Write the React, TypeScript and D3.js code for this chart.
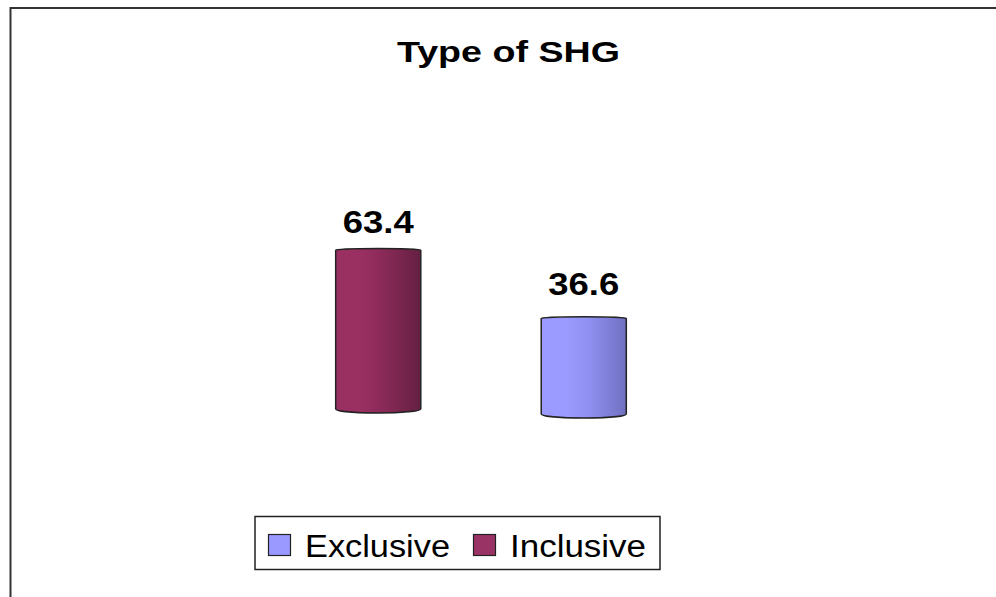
import React from 'react';
import * as d3 from 'd3';

// chart data
const categories = ['Inclusive', 'Exclusive'];
const values = [63.4, 36.6];
const legendOrder = ['Exclusive', 'Inclusive'];
const title = 'Type of SHG';

const colors: Record<string, { base: string; light: string; mid: string; dark: string }> = {
  Inclusive: { base: '#993366', light: '#9a3062', mid: '#8a2a58', dark: '#652042' },
  Exclusive: { base: '#9999FF', light: '#9b9bff', mid: '#9090f2', dark: '#7070c2' },
};

const W = 996;
const H = 597;

const App = () => {
  const x = d3.scaleBand<string>()
    .domain(categories)
    .range([131, 831])
    .paddingInner(0.586)
    .paddingOuter(0.996);

  const y = d3.scaleLinear().domain([0, 70]).range([411.5, 411.5 - 70 * 2.547]);
  // labels sit on the front rim in the 3D view, so they follow their own projection
  const yLabel = d3.scaleLinear().domain([0, 70]).range([379.7, 379.7 - 70 * 2.313]);

  // slight floor tilt of the 3D view
  const tilt = (cx: number) => (cx - 481) * 0.024;

  const cylinder = (x0: number, x1: number, yt: number, yb: number) => {
    const rx = (x1 - x0) / 2;
    return `M${x0},${yt} L${x0},${yb} A${rx},4 0 0 0 ${x1},${yb} L${x1},${yt} A${rx},1.5 0 0 0 ${x0},${yt} Z`;
  };

  return (
    <svg width={W} height={H} style={{ position: 'absolute', left: 0, top: 0, background: '#fff' }}
      fontFamily="Arial, 'Liberation Sans', sans-serif">
      <defs>
        {categories.map(c => (
          <linearGradient key={c} id={`g-${c}`} x1="0" x2="1" y1="0" y2="0">
            <stop offset="0" stopColor={colors[c].light} />
            <stop offset="0.3" stopColor={colors[c].light} />
            <stop offset="0.55" stopColor={colors[c].mid} />
            <stop offset="1" stopColor={colors[c].dark} />
          </linearGradient>
        ))}
      </defs>

      <rect x={10.5} y={8} width={1000} height={620} fill="none" stroke="#333" strokeWidth={2} />

      <text x={508.5} y={62} textAnchor="middle" fontWeight="bold" fontSize={30}
        textLength={223} lengthAdjust="spacingAndGlyphs">{title}</text>

      {categories.map((c, i) => {
        const x0 = x(c)!;
        const x1 = x0 + x.bandwidth();
        const cx = x0 + x.bandwidth() / 2;
        const yt = y(values[i]);
        const yb = y(0) + tilt(cx);
        return (
          <g key={c}>
            <path d={cylinder(x0, x1, yt, yb)} fill={`url(#g-${c})`} stroke="#222" strokeWidth={1.5} />
            <text x={cx} y={yLabel(values[i])} textAnchor="middle" fontWeight="bold" fontSize={32}
              textLength={71} lengthAdjust="spacingAndGlyphs">{values[i].toFixed(1)}</text>
          </g>
        );
      })}

      <g>
        <rect x={255} y={516.5} width={405} height={53} fill="#fff" stroke="#222" strokeWidth={1.5} />
        {legendOrder.map((c, i) => {
          const lx = i === 0 ? 268 : 473;
          return (
            <g key={c}>
              <rect x={lx + 0.5} y={534.5} width={22} height={21} fill={colors[c].base} stroke="#222" strokeWidth={1.2} />
              <text x={lx + 37} y={557} fontSize={31}
                textLength={i === 0 ? 145 : 136} lengthAdjust="spacingAndGlyphs">{c}</text>
            </g>
          );
        })}
      </g>
    </svg>
  );
};

export default App;
